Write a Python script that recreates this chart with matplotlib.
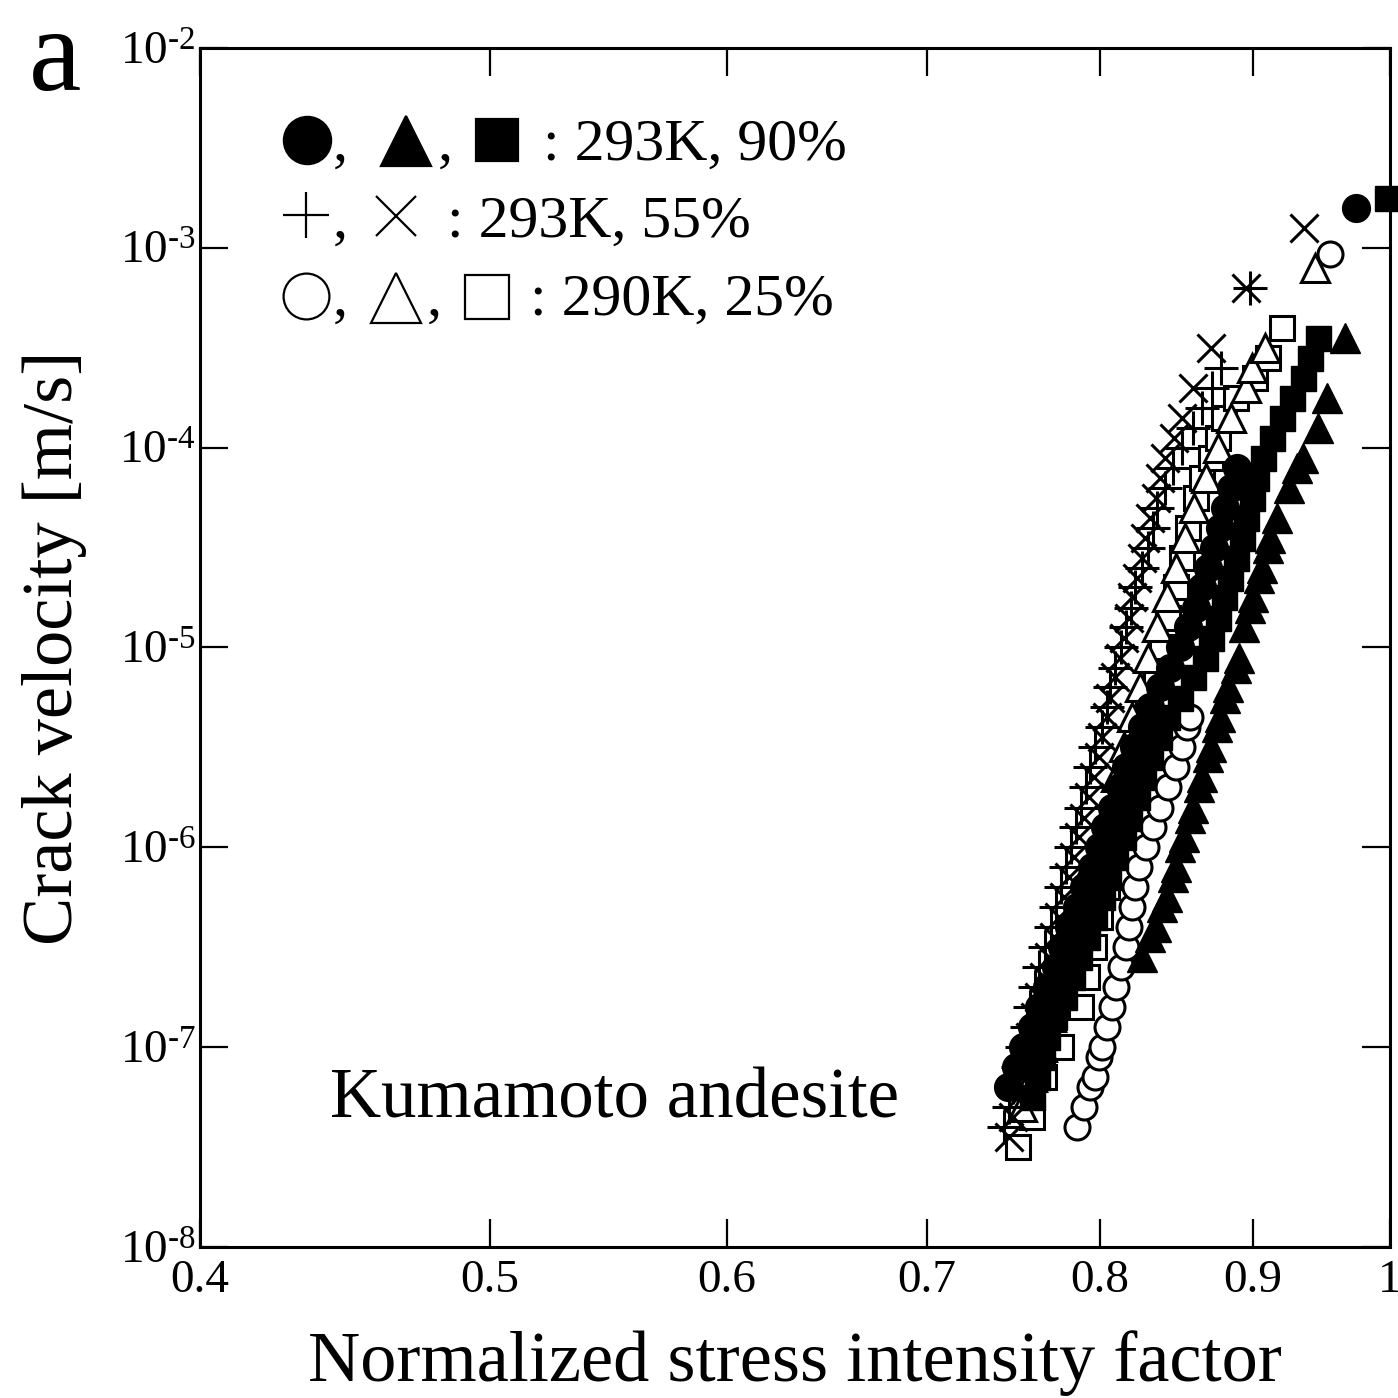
import matplotlib
matplotlib.use('Agg')
import matplotlib.pyplot as plt
from matplotlib.lines import Line2D
from matplotlib.ticker import FixedLocator, FixedFormatter, NullLocator

plt.rcParams['font.family'] = ['Liberation Serif', 'DejaVu Serif', 'DejaVu Sans']
plt.rcParams['mathtext.fontset'] = 'custom'
plt.rcParams['mathtext.rm'] = 'Liberation Serif'
plt.rcParams['mathtext.it'] = 'Liberation Serif:italic'
plt.rcParams['mathtext.bf'] = 'Liberation Serif:bold'

# ---------------- data ----------------
# 293K, 90% : filled circles
fc_x = [0.745, 0.750, 0.754, 0.759, 0.763, 0.768, 0.773, 0.777, 0.781, 0.786,
        0.790, 0.795, 0.799, 0.803, 0.807, 0.812, 0.816, 0.821, 0.826, 0.831,
        0.838, 0.844, 0.851, 0.856, 0.861, 0.865, 0.869, 0.873, 0.877, 0.881,
        0.885, 0.889, 0.974]
fc_v = [6.31e-8, 7.94e-8,
        1.0e-7, 1.26e-7, 1.58e-7, 2.0e-7, 2.51e-7, 3.16e-7, 3.98e-7, 5.01e-7, 6.31e-7, 7.94e-7,
        1.0e-6, 1.26e-6, 1.58e-6, 2.0e-6, 2.51e-6, 3.16e-6, 3.98e-6, 5.01e-6, 6.31e-6, 7.94e-6,
        1.0e-5, 1.26e-5, 1.58e-5, 2.0e-5, 2.51e-5, 3.16e-5, 3.98e-5, 5.01e-5, 6.31e-5, 7.94e-5,
        1.58e-3]
# 293K, 90% : filled triangles
ft_x = [0.826, 0.831, 0.835, 0.839, 0.842, 0.846, 0.848, 0.851, 0.853, 0.857,
        0.859, 0.863, 0.865, 0.869, 0.871, 0.875, 0.877, 0.881, 0.883, 0.888,
        0.890, 0.894, 0.898, 0.900, 0.904, 0.906, 0.910, 0.912, 0.917, 0.925,
        0.931, 0.935, 0.946, 0.953, 0.966]
ft_v = [2.82e-7, 3.55e-7, 3.98e-7, 5.01e-7, 5.62e-7, 7.08e-7, 7.94e-7, 1.0e-6, 1.12e-6, 1.41e-6,
        1.58e-6, 2.0e-6, 2.24e-6, 2.82e-6, 3.16e-6, 3.98e-6, 4.47e-6, 5.62e-6, 6.31e-6, 7.94e-6,
        8.91e-6, 1.26e-5, 1.58e-5, 1.78e-5, 2.24e-5, 2.51e-5, 3.16e-5, 3.55e-5, 4.47e-5, 6.31e-5,
        7.94e-5, 8.91e-5, 1.26e-4, 1.78e-4, 3.55e-4]
# 293K, 90% : filled squares
fs_x = [0.759, 0.762, 0.765, 0.768, 0.772, 0.778, 0.783, 0.787, 0.792, 0.796,
        0.801, 0.805, 0.809, 0.814, 0.818, 0.823, 0.827, 0.831, 0.837, 0.842,
        0.851, 0.859, 0.867, 0.871, 0.876, 0.880, 0.884, 0.888, 0.892, 0.895,
        0.899, 0.902, 0.907, 0.913, 0.920, 0.927, 0.935, 0.940, 0.946, 0.998]
fs_v = [5.62e-8, 7.08e-8, 8.91e-8,
        1.12e-7, 1.41e-7, 1.78e-7, 2.24e-7, 2.82e-7, 3.55e-7, 4.47e-7, 5.62e-7, 7.08e-7, 8.91e-7,
        1.12e-6, 1.41e-6, 1.78e-6, 2.24e-6, 2.82e-6, 3.55e-6, 4.47e-6, 5.62e-6, 7.08e-6, 8.91e-6,
        1.12e-5, 1.41e-5, 1.78e-5, 2.24e-5, 2.82e-5, 3.55e-5, 4.47e-5, 5.62e-5, 7.08e-5, 8.91e-5,
        1.12e-4, 1.41e-4, 1.78e-4, 2.24e-4, 2.82e-4, 3.55e-4,
        1.78e-3]
# 293K, 55% : plus
p_x = [0.743, 0.746, 0.748, 0.751, 0.753, 0.756, 0.758, 0.761, 0.763, 0.767,
       0.770, 0.773, 0.776, 0.779, 0.782, 0.785, 0.788, 0.791, 0.794, 0.797,
       0.801, 0.804, 0.806, 0.809, 0.813, 0.816, 0.819, 0.822, 0.826, 0.830,
       0.833, 0.836, 0.841, 0.846, 0.852, 0.859, 0.865, 0.872, 0.878, 0.898]
p_v = [3.98e-8, 5.01e-8, 6.31e-8, 7.94e-8,
       1.0e-7, 1.26e-7, 1.58e-7, 2.0e-7, 2.51e-7, 3.16e-7, 3.98e-7, 5.01e-7, 6.31e-7, 7.94e-7,
       1.0e-6, 1.26e-6, 1.58e-6, 2.0e-6, 2.51e-6, 3.16e-6, 3.98e-6, 5.01e-6, 6.31e-6, 7.94e-6,
       1.0e-5, 1.26e-5, 1.58e-5, 2.0e-5, 2.51e-5, 3.16e-5, 3.98e-5, 5.01e-5, 6.31e-5, 7.94e-5,
       1.0e-4, 1.26e-4, 1.58e-4, 2.0e-4, 2.51e-4, 6.31e-4]
# 293K, 55% : cross
x_x = [0.746, 0.748, 0.751, 0.753, 0.755, 0.758, 0.761, 0.763, 0.766, 0.769,
       0.772, 0.775, 0.778, 0.781, 0.784, 0.787, 0.790, 0.793, 0.796, 0.799,
       0.801, 0.804, 0.806, 0.809, 0.812, 0.815, 0.818, 0.820, 0.823, 0.826,
       0.828, 0.831, 0.835, 0.838, 0.841, 0.847, 0.852, 0.859, 0.871, 0.895, 0.936]
x_v = [3.55e-8, 4.47e-8, 5.62e-8, 7.08e-8, 8.91e-8,
       1.12e-7, 1.41e-7, 1.78e-7, 2.24e-7, 2.82e-7, 3.55e-7, 4.47e-7, 5.62e-7, 7.08e-7, 8.91e-7,
       1.12e-6, 1.41e-6, 1.78e-6, 2.24e-6, 2.82e-6, 3.55e-6, 4.47e-6, 5.62e-6, 7.08e-6, 8.91e-6,
       1.12e-5, 1.41e-5, 1.78e-5, 2.24e-5, 2.82e-5, 3.55e-5, 4.47e-5, 5.62e-5, 7.08e-5, 8.91e-5,
       1.12e-4, 1.41e-4, 2.0e-4, 3.16e-4, 6.31e-4, 1.26e-3]
# 290K, 25% : open circles
oc_x = [0.786, 0.790, 0.794, 0.797, 0.799, 0.801, 0.804, 0.807, 0.810, 0.813,
        0.816, 0.818, 0.820, 0.822, 0.824, 0.829, 0.833, 0.838, 0.843, 0.848,
        0.852, 0.855, 0.857, 0.955]
oc_v = [3.98e-8, 5.01e-8, 6.31e-8, 7.08e-8, 8.91e-8, 1.0e-7, 1.26e-7, 1.58e-7, 2.0e-7, 2.51e-7,
        3.16e-7, 3.98e-7, 5.01e-7, 6.31e-7, 7.94e-7, 1.0e-6, 1.26e-6, 1.58e-6, 2.0e-6, 2.51e-6,
        3.16e-6, 3.98e-6, 4.47e-6, 9.3e-4]
# 290K, 25% : open triangles
ot_x = [0.753, 0.759, 0.765, 0.770, 0.775, 0.780, 0.784, 0.789, 0.793, 0.802,
        0.806, 0.810, 0.815, 0.820, 0.825, 0.830, 0.836, 0.842, 0.848, 0.854,
        0.860, 0.868, 0.876, 0.885, 0.895, 0.899, 0.908, 0.944]
ot_v = [5.01e-8, 7.08e-8, 1.0e-7, 1.41e-7, 2.0e-7, 2.82e-7, 3.98e-7, 5.62e-7, 7.94e-7, 1.12e-6,
        1.58e-6, 2.24e-6, 3.16e-6, 4.47e-6, 6.31e-6, 8.91e-6, 1.26e-5, 1.78e-5, 2.51e-5, 3.55e-5,
        5.01e-5, 7.08e-5, 1.0e-4, 1.41e-4, 2.0e-4, 2.51e-4, 3.16e-4, 7.94e-4]
# 290K, 25% : open squares
os_x = [0.751, 0.759, 0.766, 0.776, 0.788, 0.792, 0.796, 0.800, 0.804, 0.808,
        0.813, 0.817, 0.822, 0.826, 0.830, 0.835, 0.839, 0.843, 0.848, 0.852,
        0.856, 0.861, 0.865, 0.871, 0.876, 0.880, 0.888, 0.901, 0.910, 0.920]
os_v = [3.16e-8, 4.47e-8, 7.08e-8, 1.0e-7, 1.58e-7, 2.24e-7, 3.16e-7, 4.47e-7, 6.31e-7, 8.91e-7,
        1.26e-6, 1.78e-6, 2.51e-6, 3.55e-6, 5.01e-6, 7.08e-6, 1.0e-5, 1.41e-5, 2.0e-5, 2.82e-5,
        3.98e-5, 5.62e-5, 7.08e-5, 8.91e-5, 1.12e-4, 1.41e-4, 1.78e-4, 2.24e-4, 2.82e-4, 3.98e-4]

x_ticks = [0.4, 0.5, 0.6, 0.7, 0.8, 0.9, 1.0]
x_tick_labels = ['0.4', '0.5', '0.6', '0.7', '0.8', '0.9', '1']
y_ticks = [1e-8, 1e-7, 1e-6, 1e-5, 1e-4, 1e-3, 1e-2]
y_tick_labels = [r'$10^{\text{-8}}$', r'$10^{\text{-7}}$', r'$10^{\text{-6}}$', r'$10^{\text{-5}}$',
                 r'$10^{\text{-4}}$', r'$10^{\text{-3}}$', r'$10^{\text{-2}}$']

legend_rows = [': 293K, 90%', ': 293K, 55%', ': 290K, 25%']

# ---------------- figure ----------------
W = H = 1398
fig = plt.figure(figsize=(W / 100, H / 100), dpi=100)
ax = fig.add_axes([200 / W, 1 - 1247 / H, 1190 / W, 1199 / H])
ax.set_xscale('log')
ax.set_yscale('log')
ax.set_xlim(0.4, 1.0)
ax.set_ylim(1e-8, 1e-2)

mew = 2.2
ax.plot(os_x, os_v, ls='none', marker='s', ms=17, mfc='white', mec='black', mew=mew, zorder=2)
ax.plot(ot_x, ot_v, ls='none', marker='^', ms=20, mfc='white', mec='black', mew=mew, zorder=2)
ax.plot(oc_x, oc_v, ls='none', marker='o', ms=18, mfc='white', mec='black', mew=mew, zorder=2)
ax.plot(p_x, p_v, ls='none', marker='+', ms=25, color='black', mew=mew, zorder=3)
ax.plot(x_x, x_v, ls='none', marker='x', ms=20, color='black', mew=mew, zorder=3)
ax.plot(fc_x, fc_v, ls='none', marker='o', ms=20, color='black', zorder=4)
ax.plot(fs_x, fs_v, ls='none', marker='s', ms=18, color='black', zorder=4, clip_on=False)
ax.plot(ft_x, ft_v, ls='none', marker='^', ms=22, color='black', zorder=4)

ax.xaxis.set_major_locator(FixedLocator(x_ticks))
ax.xaxis.set_major_formatter(FixedFormatter(x_tick_labels))
ax.xaxis.set_minor_locator(NullLocator())
ax.yaxis.set_major_locator(FixedLocator(y_ticks))
ax.yaxis.set_major_formatter(FixedFormatter(y_tick_labels))
ax.yaxis.set_minor_locator(NullLocator())

ax.tick_params(which='major', direction='in', top=True, right=True,
               length=20, width=1.6, labelsize=34, colors='black')
ax.tick_params(axis='x', pad=9)
ax.tick_params(axis='y', pad=3)
for s in ax.spines.values():
    s.set_linewidth(2.2)


# ---------------- legend block (symbols + text) ----------------
def sym(px, py, marker, ms, filled, lw=1.6):
    fig.add_artist(Line2D([px / W], [1 - py / H], transform=fig.transFigure,
                          ls='none', marker=marker, ms=ms,
                          mfc='black' if filled else 'white', mec='black', mew=lw))


def txt(px, py, s, size=43, **kw):
    fig.text(px / W, 1 - py / H, s, fontsize=size, ha='left', va='baseline', **kw)


# row 1
sym(307, 140, 'o', 34, True)
txt(333, 160, ',')
sym(406, 141, '^', 36, True)
txt(438, 160, ',')
sym(497, 140, 's', 30, True)
txt(543, 160, legend_rows[0])
# row 2
fig.add_artist(Line2D([306 / W], [1 - 215 / H], transform=fig.transFigure, ls='none',
                      marker='+', ms=33, color='black', mew=1.6))
txt(333, 237, ',')
fig.add_artist(Line2D([396 / W], [1 - 216 / H], transform=fig.transFigure, ls='none',
                      marker='x', ms=29, color='black', mew=1.6))
txt(447, 237, legend_rows[1])
# row 3
sym(306, 296, 'o', 33, False)
txt(333, 315, ',')
sym(396, 298, '^', 36, False)
txt(427, 315, ',')
sym(487, 297, 's', 31, False)
txt(530, 315, legend_rows[2])

# ---------------- other texts ----------------
fig.text(330 / W, 1 - 1118 / H, 'Kumamoto andesite', fontsize=51, ha='left', va='baseline')
fig.text(55 / W, 1 - 90 / H, 'a', fontsize=85, ha='center', va='baseline')

fig.text(795 / W, 1 - 1381 / H, 'Normalized stress intensity factor', fontsize=52,
         ha='center', va='baseline')
fig.text(72 / W, 1 - 648 / H, 'Crack velocity [m/s]', fontsize=52, rotation=90,
         rotation_mode='anchor', ha='center', va='baseline')

fig.savefig('out.png', dpi=100)
